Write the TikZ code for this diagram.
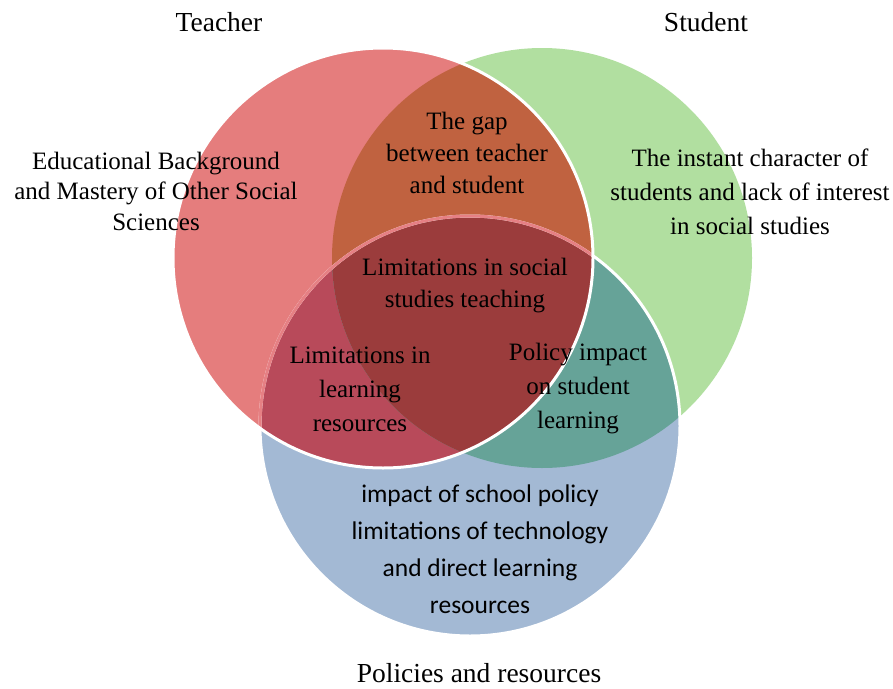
\documentclass[tikz,border=0pt]{standalone}
\usepackage{fontspec}
\setmainfont{Liberation Serif}
\newfontfamily\timesfam{Liberation Serif}
\newfontfamily\calibri{Carlito}
\definecolor{cRed}{RGB}{229,125,125}
\definecolor{cGreen}{RGB}{177,223,160}
\definecolor{cBlue}{RGB}{163,185,212}
\definecolor{cRG}{RGB}{192,98,64}
\definecolor{cRB}{RGB}{184,74,90}
\definecolor{cGB}{RGB}{102,163,152}
\definecolor{cRGB}{RGB}{155,60,60}
\definecolor{cPinkLine}{RGB}{230,128,132}
\tikzset{
  titletext/.style={font=\timesfam\fontsize{27.5}{32}\selectfont, text=black, inner sep=0pt},
  regtext/.style={font=\timesfam\fontsize{25}{32}\selectfont, align=center, text=black, inner sep=0pt},
  regtextw/.style={font=\timesfam\fontsize{25}{34}\selectfont, align=center, text=black, inner sep=0pt},
  regtextn/.style={font=\timesfam\fontsize{25}{30.5}\selectfont, align=center, text=black, inner sep=0pt},
  bluetext/.style={font=\calibri\fontsize{25.5}{37}\selectfont, align=center, text=black, inner sep=0pt},
  outline/.style={line width=3pt}
}
\begin{document}
\begin{tikzpicture}[x=1pt,y=-1pt]
\useasboundingbox (0,0) rectangle (893,688);
\fill[white] (0,0) rectangle (893,688);
\def\R{210}
\coordinate (T) at (383,258);
\coordinate (S) at (542,258);
\coordinate (P) at (470,426);
% base fills
\fill[cGreen] (S) circle (\R);
\fill[cBlue] (P) circle (\R);
\fill[cRed] (T) circle (\R);
\begin{scope}
  \clip (T) circle (\R);
  \fill[cRG] (S) circle (\R);
  \fill[cRB] (P) circle (\R);
\end{scope}
\begin{scope}
  \clip (S) circle (\R);
  \fill[cGB] (P) circle (\R);
\end{scope}
\begin{scope}
  \clip (T) circle (\R);
  \clip (S) circle (\R);
  \fill[cRGB] (P) circle (\R);
\end{scope}
% outlines
\draw[outline, white] (P) circle (\R);
\begin{scope}
  \clip (T) circle (\R);
  \draw[outline, cPinkLine] (P) circle (\R);
\end{scope}
\draw[outline, white] (T) circle (\R);
% titles
\node[titletext] (tT) at (219,22) {Teacher};
\node[titletext] (tS) at (706,22) {Student};
\node[titletext] (tP) at (479,673) {Policies and resources};
% region texts
\node[regtextn] (edu) at (156,191) {Educational Background\\and Mastery of Other Social\\Sciences};
\node[regtext] (gap) at (467,153) {The gap\\between teacher\\and student};
\node[regtextw] (inst) at (750,192) {The instant character of\\students and lack of interest\\in social studies};
\node[regtext] (lim) at (465,286) {Limitations in social\\studies teaching};
\node[regtextw] (lrn) at (360,389) {Limitations in\\learning\\resources};
\node[regtextw] (pol) at (578,389) {Policy impact\\on student\\learning};
\node[bluetext] (res) at (480,549) {impact of school policy\\limitations of technology\\and direct learning\\resources};
\end{tikzpicture}
\end{document}
